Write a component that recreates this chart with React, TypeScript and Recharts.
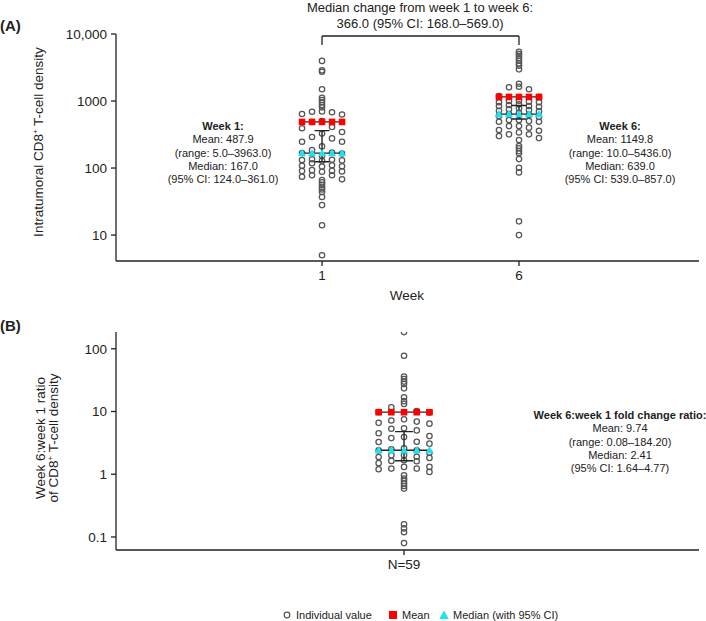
import React from 'react';
import { ScatterChart, Scatter, XAxis, YAxis, ReferenceLine } from 'recharts';

const FONT = '"Liberation Sans", Arial, Helvetica, sans-serif';
const INK = '#222';
const DOT = '#555';
const RED = '#ff0000';
const CYAN = '#1ee3ee';

// ---------- Panel A data ----------
const weeks = [1, 6];
const week1Values = [
  3963, 2870, 2735, 1496, 1119, 1035, 957, 872, 805,
  700, 692, 680, 640, 630,
  500, 486, 410, 392, 345, 327,
  290, 277, 247, 247, 210,
  185, 170, 167, 165, 152,
  135, 133, 132, 130, 128,
  118, 110, 108, 106, 105,
  93, 91, 90, 89, 88,
  78, 78, 74, 68,
  66, 61, 56, 51, 48, 44, 37, 28, 14, 5,
];
const week6Values = [
  5436, 5024, 4694, 4339, 3994, 3652, 3366, 2972, 1811,
  1634, 1600, 1496, 1180, 1150,
  1009, 1000, 977, 957, 957,
  893, 872, 842, 842, 822,
  778, 752, 734, 716, 700,
  660, 639, 620, 600, 580,
  520, 520, 502, 491, 491,
  423, 423, 400, 369, 360,
  340, 318, 318, 300, 280,
  262, 213, 197, 179, 166, 136, 101, 86, 16, 10,
];
const weekMeans = [487.9, 1149.8];
const weekMedians = [167.0, 639.0];
const weekCILow = [124.0, 539.0];
const weekCIHigh = [361.0, 857.0];
const weekRangeLow = [5.0, 10.0];
const weekRangeHigh = [3963.0, 5436.0];
const panelATicks = [10, 100, 1000, 10000];
const medianChange = 366.0;
const medianChangeCILow = 168.0;
const medianChangeCIHigh = 569.0;

// ---------- Panel B data ----------
const ratioValues = [
  184.2, 77.4, 36, 33, 30, 27.5, 23.4, 16.9,
  14.6, 13.2, 11.7, 10.2, 9.8,
  9.6, 7.5, 7.2, 6.9, 6.6,
  6.4, 5.4, 5.3, 5.0, 4.5,
  4.06, 3.91, 3.77, 3.3, 3.26,
  3.07, 2.6, 2.5, 2.41, 2.4,
  2.2, 2.0, 2.0, 1.9, 1.88,
  1.82, 1.67, 1.63, 1.61, 1.5,
  1.31, 1.31, 1.23, 1.23, 1.2,
  1.09, 0.96, 0.855, 0.78, 0.71, 0.65, 0.59, 0.159, 0.137, 0.119, 0.08,
];
const ratioMean = 9.74;
const ratioMedian = 2.41;
const ratioCILow = 1.64;
const ratioCIHigh = 4.77;
const ratioRangeLow = 0.08;
const ratioRangeHigh = 184.2;
const ratioTicks = [0.1, 1, 10, 100];

// ---------- geometry ----------
const W = 706;
const PLOT_W = 583;
const XA_DOMAIN: [number, number] = [-4.23, 10.57];
const XB_DOMAIN: [number, number] = [0, 2.024];
const YA_DOMAIN: [number, number] = [4.1, 10000];
const YB_DOMAIN: [number, number] = [0.062, 185];
const pxPerUnitA = PLOT_W / (XA_DOMAIN[1] - XA_DOMAIN[0]);
const pxPerUnitB = PLOT_W / (XB_DOMAIN[1] - XB_DOMAIN[0]);
const stepA = 10 / pxPerUnitA;
const capA = 7.5 / pxPerUnitA;
const stepB = 12.7 / pxPerUnitB;
const capB = 9 / pxPerUnitB;

// dot-plot layout: tails stacked on center, the core spread over 5 columns
const COL_ORDER = [0, -1, 1, -2, 2];
function swarm(values: number[], g: number, step: number) {
  const sorted = [...values].sort((a, b) => b - a);
  const n = sorted.length;
  const top = Math.round(n * 0.15);
  const bottom = Math.round(n * 0.17);
  return sorted.map((v, i) => {
    const col = i >= top && i < n - bottom ? COL_ORDER[(i - top) % 5] : 0;
    return { x: g + col * step, y: v };
  });
}
const statRow = (g: number, step: number, v: number) =>
  [-2, -1, 0, 1, 2].map((k) => ({ x: g + k * step, y: v }));
const ciPath = (g: number, cap: number, lo: number, hi: number) => [
  { x: g - cap, y: hi },
  { x: g + cap, y: hi },
  { x: g, y: hi },
  { x: g, y: lo },
  { x: g - cap, y: lo },
  { x: g + cap, y: lo },
];

const Dot = (p: any) =>
  p.cx == null ? <g /> : <circle cx={p.cx} cy={p.cy} r={2.7} fill="none" stroke={DOT} strokeWidth={1.25} />;
const Square = (p: any) =>
  p.cx == null ? <g /> : <rect x={p.cx - 3.3} y={p.cy - 3.3} width={6.6} height={6.6} fill={RED} />;
const Tri = (p: any) =>
  p.cx == null ? <g /> : (
    <polygon points={`${p.cx},${p.cy - 4.2} ${p.cx - 4},${p.cy + 3.2} ${p.cx + 4},${p.cy + 3.2}`} fill={CYAN} />
  );
const Nothing = () => <g />;

const tickStyle = { fill: INK, fontSize: 13.5, fontFamily: FONT };
const axisLine = { stroke: INK, strokeWidth: 1.3 };
const fmtY = (v: number) => (v >= 10000 ? v.toLocaleString('en-US') : String(v));
const f1 = (v: number) => v.toFixed(1);
const f2 = (v: number) => v.toFixed(2);

const weekData = [week1Values, week6Values];

function PanelA() {
  const bracketY = 9336;
  const bracketEnd = 6850;
  return (
    <ScatterChart width={W} height={300} margin={{ top: 34, right: 7, bottom: 9, left: 46 }}>
      <XAxis
        type="number"
        dataKey="x"
        domain={XA_DOMAIN}
        ticks={weeks}
        allowDataOverflow
        axisLine={axisLine}
        tickLine={axisLine}
        tickSize={5}
        tickMargin={4}
        tick={tickStyle}
        height={30}
      />
      <YAxis
        type="number"
        dataKey="y"
        scale="log"
        domain={YA_DOMAIN}
        allowDataOverflow
        ticks={panelATicks}
        tickFormatter={fmtY}
        axisLine={axisLine}
        tickLine={axisLine}
        tickSize={5}
        tickMargin={4}
        tick={tickStyle}
        width={70}
      />
      <ReferenceLine segment={[{ x: weeks[0], y: bracketY }, { x: weeks[1], y: bracketY }]} stroke={INK} strokeWidth={1.3} ifOverflow="visible" />
      <ReferenceLine segment={[{ x: weeks[0], y: bracketY }, { x: weeks[0], y: bracketEnd }]} stroke={INK} strokeWidth={1.3} ifOverflow="visible" />
      <ReferenceLine segment={[{ x: weeks[1], y: bracketY }, { x: weeks[1], y: bracketEnd }]} stroke={INK} strokeWidth={1.3} ifOverflow="visible" />
      {weeks.map((g, i) => (
        <Scatter key={'p' + g} data={swarm(weekData[i], g, stepA)} shape={Dot} isAnimationActive={false} />
      ))}
      {weeks.map((g, i) => (
        <Scatter key={'ci' + g} data={ciPath(g, capA, weekCILow[i], weekCIHigh[i])} shape={Nothing} line={{ stroke: INK, strokeWidth: 1.4 }} lineType="joint" isAnimationActive={false} />
      ))}
      {weeks.map((g, i) => (
        <Scatter key={'m' + g} data={statRow(g, stepA, weekMeans[i])} shape={Square} line={{ stroke: INK, strokeWidth: 1.3 }} lineType="joint" isAnimationActive={false} />
      ))}
      {weeks.map((g, i) => (
        <Scatter key={'md' + g} data={statRow(g, stepA, weekMedians[i])} shape={Tri} line={{ stroke: INK, strokeWidth: 1.3 }} lineType="joint" isAnimationActive={false} />
      ))}
    </ScatterChart>
  );
}

function PanelB() {
  const g = 1;
  return (
    <ScatterChart width={W} height={280} margin={{ top: 32, right: 7, bottom: 0, left: 46 }}>
      <XAxis
        type="number"
        dataKey="x"
        domain={XB_DOMAIN}
        ticks={[g]}
        tickFormatter={() => `N=${ratioValues.length}`}
        allowDataOverflow
        axisLine={axisLine}
        tickLine={axisLine}
        tickSize={5}
        tickMargin={4}
        tick={tickStyle}
        height={30}
      />
      <YAxis
        type="number"
        dataKey="y"
        scale="log"
        domain={YB_DOMAIN}
        allowDataOverflow
        ticks={ratioTicks}
        tickFormatter={fmtY}
        axisLine={axisLine}
        tickLine={axisLine}
        tickSize={5}
        tickMargin={4}
        tick={tickStyle}
        width={70}
      />
      <Scatter data={swarm(ratioValues, g, stepB)} shape={Dot} isAnimationActive={false} />
      <Scatter data={ciPath(g, capB, ratioCILow, ratioCIHigh)} shape={Nothing} line={{ stroke: INK, strokeWidth: 1.4 }} lineType="joint" isAnimationActive={false} />
      <Scatter data={statRow(g, stepB, ratioMean)} shape={Square} line={{ stroke: INK, strokeWidth: 1.3 }} lineType="joint" isAnimationActive={false} />
      <Scatter data={statRow(g, stepB, ratioMedian)} shape={Tri} line={{ stroke: INK, strokeWidth: 1.3 }} lineType="joint" isAnimationActive={false} />
    </ScatterChart>
  );
}

function StatBlock({ x, y, title, mean, lo, hi, median, ciLo, ciHi, fmt }: any) {
  const lh = 13.3;
  return (
    <text x={x} y={y} textAnchor="middle" fontSize={11} fill={INK} fontFamily={FONT}>
      <tspan x={x} y={y} fontWeight="bold">{title}</tspan>
      <tspan x={x} y={y + lh}>{`Mean: ${fmt(mean)}`}</tspan>
      <tspan x={x} y={y + 2 * lh}>{`(range: ${fmt(lo)}–${fmt(hi)})`}</tspan>
      <tspan x={x} y={y + 3 * lh}>{`Median: ${fmt(median)}`}</tspan>
      <tspan x={x} y={y + 4 * lh}>{`(95% CI: ${fmt(ciLo)}–${fmt(ciHi)})`}</tspan>
    </text>
  );
}

function Overlay() {
  return (
    <svg width={W} height={621} style={{ position: 'absolute', left: 0, top: 0, pointerEvents: 'none' }} fontFamily={FONT}>
      <text x={0} y={31} fontSize={15} fontWeight="bold" fill={INK}>(A)</text>
      <text x={0} y={331} fontSize={15} fontWeight="bold" fill={INK}>(B)</text>

      <text x={420} y={12} fontSize={13} textAnchor="middle" fill={INK}>Median change from week 1 to week 6:</text>
      <text x={420} y={28} fontSize={13} textAnchor="middle" fill={INK}>
        {`${f1(medianChange)} (95% CI: ${f1(medianChangeCILow)}–${f1(medianChangeCIHigh)})`}
      </text>

      <text transform="translate(42.5,142) rotate(-90)" textAnchor="middle" fontSize={13.5} fill={INK}>
        <tspan>Intratumoral CD8</tspan>
        <tspan dy={-5} fontSize={8}>+</tspan>
        <tspan dy={5}> T-cell density</tspan>
      </text>
      <text x={407} y={300} fontSize={13.5} textAnchor="middle" fill={INK}>Week</text>

      <StatBlock x={223} y={130} title="Week 1:" mean={weekMeans[0]} lo={weekRangeLow[0]} hi={weekRangeHigh[0]} median={weekMedians[0]} ciLo={weekCILow[0]} ciHi={weekCIHigh[0]} fmt={f1} />
      <StatBlock x={620} y={130} title="Week 6:" mean={weekMeans[1]} lo={weekRangeLow[1]} hi={weekRangeHigh[1]} median={weekMedians[1]} ciLo={weekCILow[1]} ciHi={weekCIHigh[1]} fmt={f1} />

      <text transform="translate(44.5,438) rotate(-90)" textAnchor="middle" fontSize={13.5} fill={INK}>Week 6:week 1 ratio</text>
      <text transform="translate(58,438) rotate(-90)" textAnchor="middle" fontSize={13.5} fill={INK}>
        <tspan>of CD8</tspan>
        <tspan dy={-5} fontSize={8}>+</tspan>
        <tspan dy={5}> T-cell density</tspan>
      </text>

      <StatBlock x={620} y={419} title="Week 6:week 1 fold change ratio:" mean={ratioMean} lo={ratioRangeLow} hi={ratioRangeHigh} median={ratioMedian} ciLo={ratioCILow} ciHi={ratioCIHigh} fmt={f2} />

      <g fontSize={11} fill={INK}>
        <circle cx={287} cy={615} r={2.8} fill="none" stroke={DOT} strokeWidth={1.2} />
        <text x={296} y={619}>Individual value</text>
        <rect x={389} y={611} width={8} height={8} fill={RED} />
        <text x={402} y={619}>Mean</text>
        <polygon points="444,610.5 439.3,619 448.7,619" fill={CYAN} />
        <text x={453} y={619}>Median (with 95% CI)</text>
      </g>
    </svg>
  );
}

export default function App() {
  return (
    <div style={{ position: 'absolute', left: 0, top: 0, width: W, height: 621, background: '#fff', fontFamily: FONT }}>
      <div style={{ position: 'absolute', left: 0, top: 0 }}>
        <PanelA />
      </div>
      <div style={{ position: 'absolute', left: 0, top: 300 }}>
        <PanelB />
      </div>
      <Overlay />
    </div>
  );
}
